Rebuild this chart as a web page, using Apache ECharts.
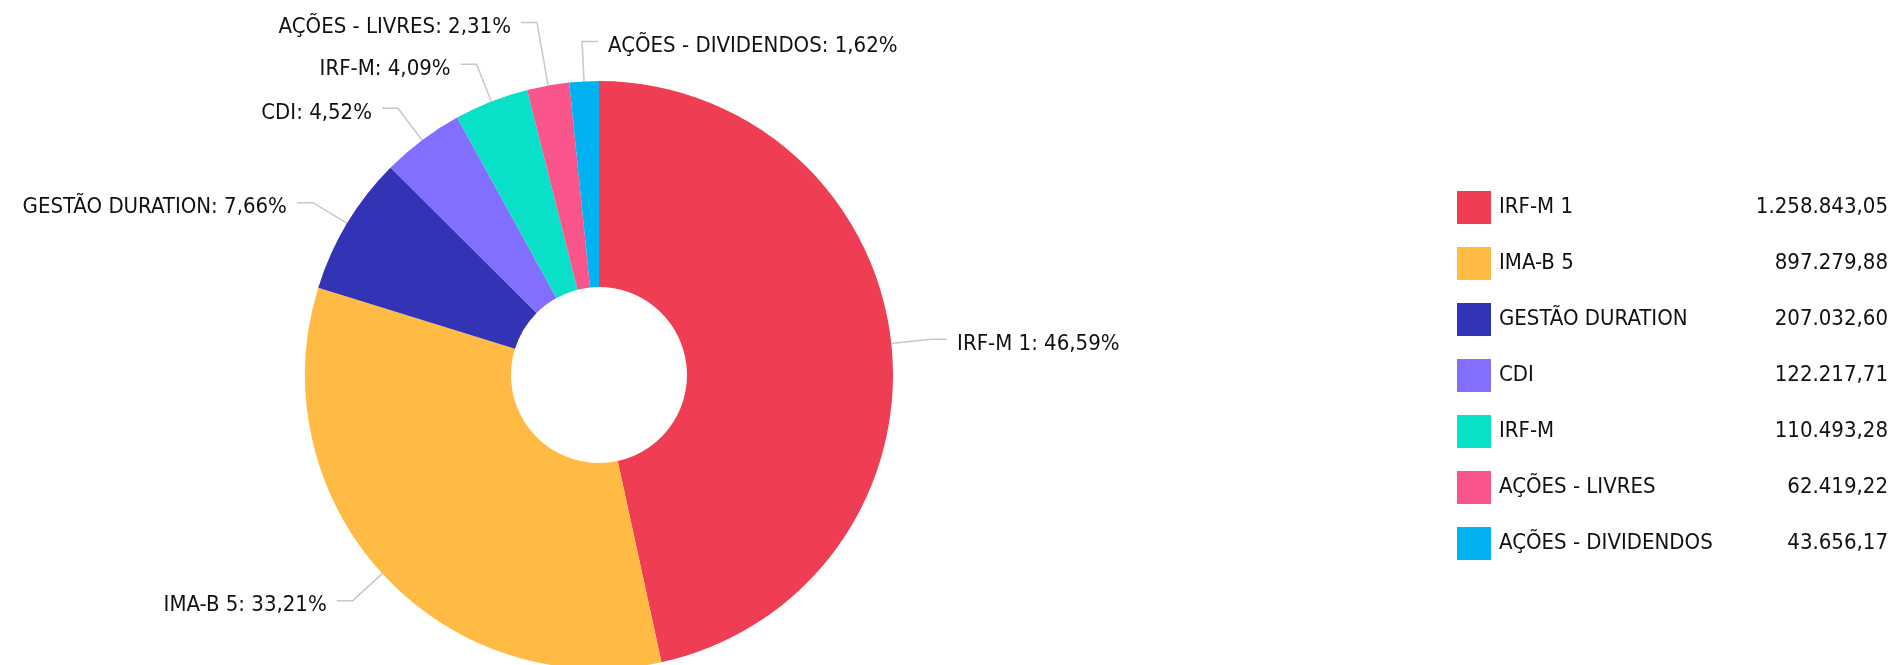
<!DOCTYPE html>
<html>
<head>
<meta charset="utf-8">
<style>
  html, body { margin: 0; padding: 0; background: #fff; }
  #chart { width: 1895px; height: 665px; }
</style>
<script src="https://cdn.jsdelivr.net/npm/echarts@6/dist/echarts.min.js"></script>
</head>
<body>
<div id="chart"></div>
<script>
// dados da carteira
const names = ['IRF-M 1', 'IMA-B 5', 'GESTÃO DURATION', 'CDI', 'IRF-M', 'AÇÕES - LIVRES', 'AÇÕES - DIVIDENDOS']
const values = [1258843.05, 897279.88, 207032.60, 122217.71, 110493.28, 62419.22, 43656.17]
const colors = ['#EF3D53', '#FFBB44', '#3333B5', '#836FFF', '#08E0C7', '#F9558B', '#00B2F0']

const FONT = '"DejaVu Sans Condensed", "Liberation Sans Narrow", "DejaVu Sans", sans-serif'

// formato pt-BR: 1.258.843,05
function fmtBR(v) {
  const parts = v.toFixed(2).split('.')
  parts[0] = parts[0].replace(/\B(?=(\d{3})+(?!\d))/g, '.')
  return parts.join(',')
}

const chart = echarts.init(document.getElementById('chart'))

const seriesData = names.map((n, i) => {
  const item = { name: n, value: values[i], itemStyle: { color: colors[i] } }
  // rotulo de AÇÕES - LIVRES mais alto para nao encostar no IRF-M
  if (n === 'AÇÕES - LIVRES') item.labelLine = { length: 64 }
  return item
})

chart.setOption({
  animation: false,
  color: colors,
  legend: {
    orient: 'vertical',
    left: 1457,
    top: 191,
    padding: 0,
    icon: 'rect',
    itemWidth: 34,
    itemHeight: 33,
    itemGap: 23,
    selectedMode: false,
    data: names,
    formatter: function (name) {
      const i = names.indexOf(name)
      return '{n|' + name + '}{v|' + fmtBR(values[i]) + '}'
    },
    textStyle: {
      fontFamily: FONT,
      fontSize: 22,
      color: '#111',
      rich: {
        n: { width: 250, padding: [0, 0, 0, 3], fontFamily: FONT, fontSize: 22, color: '#111' },
        v: { width: 139, align: 'right', fontFamily: FONT, fontSize: 22, color: '#111' }
      }
    }
  },
  series: [
    {
      type: 'pie',
      center: [599, 375],
      radius: [88, 294],
      startAngle: 90,
      clockwise: true,
      avoidLabelOverlap: false,
      label: {
        show: true,
        position: 'outside',
        fontFamily: FONT,
        fontSize: 22,
        color: '#111',
        distanceToLabelLine: 10,
        formatter: function (p) {
          return p.name + ': ' + p.percent.toFixed(2).replace('.', ',') + '%'
        }
      },
      labelLine: {
        show: true,
        length: 40,
        length2: 16,
        lineStyle: { color: '#c8c8c8', width: 1.5 }
      },
      // texto um pouco abaixo da linha; AÇÕES - DIVIDENDOS vai para o lado direito
      labelLayout: function (params) {
        const pts = params.labelLinePoints
        if (!pts) return
        if (names[params.dataIndex] !== 'AÇÕES - DIVIDENDOS') {
          return { dy: 5, labelLinePoints: pts }
        }
        const endX = pts[1][0] + Math.abs(pts[2][0] - pts[1][0])
        return {
          x: endX + 10,
          y: pts[2][1] + 5,
          align: 'left',
          verticalAlign: 'middle',
          labelLinePoints: [pts[0], pts[1], [endX, pts[2][1]]]
        }
      },
      emphasis: { disabled: true },
      data: seriesData
    }
  ]
})
</script>
</body>
</html>
